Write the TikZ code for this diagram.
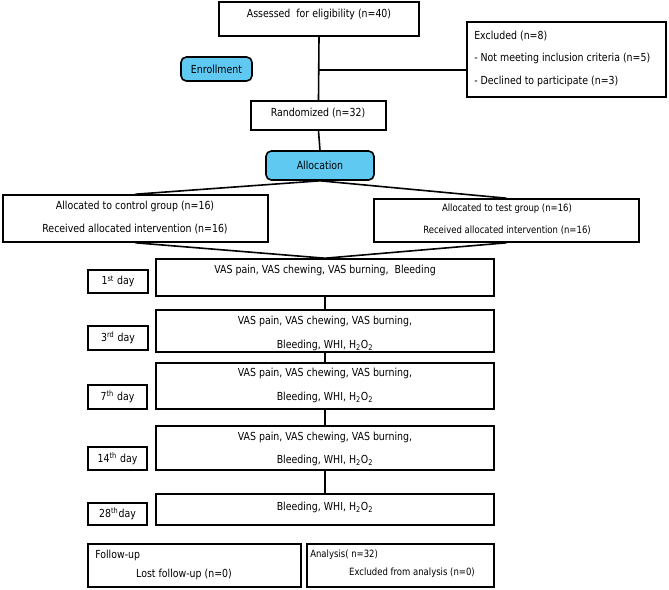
\documentclass[tikz,border=0pt]{standalone}
\usepackage{fontspec}
\setmainfont{DejaVu Sans}[FakeStretch=0.85]
\usetikzlibrary{fit}
\definecolor{boxblue}{RGB}{95,201,242}
\tikzset{
  box/.style={draw, line width=1.2pt, inner sep=0pt},
  rbox/.style={draw, line width=1.2pt, inner sep=0pt, rounded corners=4pt, fill=boxblue},
  txt/.style={inner sep=0pt, font=\fontsize{8.3pt}{9pt}\selectfont},
  stxt/.style={inner sep=0pt, font=\fontsize{7.5pt}{8.5pt}\selectfont},
  conn/.style={line width=1.2pt},
}
\begin{document}
\begin{tikzpicture}[x=0.75pt,y=-0.75pt]
\useasboundingbox (0,0) rectangle (669,590);
% boxes
\node[box, fit={(219,2)(419,36)}] (assess) {};
\node[box, fit={(467,22)(666,97)}] (excl) {};
\node[rbox, fit={(181,57)(252,81)}] (enrol) {};
\node[box, fit={(251,101)(386,130)}] (rand) {};
\node[rbox, fit={(266,151)(374,180)}] (alloc) {};
\node[box, fit={(3,195)(268,242)}] (ctrl) {};
\node[box, fit={(374,199)(639,242)}] (test) {};
\node[box, fit={(156,259)(494,296)}] (d1) {};
\node[box, fit={(156,310)(494,352)}] (d3) {};
\node[box, fit={(156,363)(494,409)}] (d7) {};
\node[box, fit={(156,426)(494,470)}] (d14) {};
\node[box, fit={(156,494)(494,525)}] (d28) {};
\node[box, fit={(88,270)(148,293)}] (l1) {};
\node[box, fit={(88,326)(148,350)}] (l3) {};
\node[box, fit={(88,385)(147,409)}] (l7) {};
\node[box, fit={(88,447)(147,470)}] (l14) {};
\node[box, fit={(88,503)(147,525)}] (l28) {};
\node[box, fit={(88,544)(301,587)}] (fu) {};
\node[box, fit={(307,544)(494,587)}] (an) {};
% texts
\node[txt] (assess-t) at (319,14) {Assessed\ \ for eligibility (n=40)};
\node[txt, anchor=west] (excl-t1) at (474,36) {Excluded (n=8)};
\node[txt, anchor=west] (excl-t2) at (474,58) {- Not meeting inclusion criteria (n=5)};
\node[txt, anchor=west] (excl-t3) at (474,81) {- Declined to participate (n=3)};
\node[txt] (enrol-t) at (enrol.center) {Enrollment};
\node[txt] (rand-t) at (318,113) {Randomized (n=32)};
\node[txt] (alloc-t) at (alloc.center) {Allocation};
\node[txt] (ctrl-t1) at (135,206) {Allocated to control group (n=16)};
\node[txt] (ctrl-t2) at (135,229) {Received allocated intervention (n=16)};
\node[stxt] (test-t1) at (507,209) {Allocated to test group (n=16)};
\node[stxt] (test-t2) at (507,230) {Received allocated intervention (n=16)};
\node[txt] (d1-t) at (325,270) {VAS pain, VAS chewing, VAS burning,\ \ Bleeding};
\node[txt] (d3-t1) at (325,321) {VAS pain, VAS chewing, VAS burning,};
\node[txt] (d3-t2) at (325,345) {Bleeding, WHI, H\textsubscript{2}O\textsubscript{2}};
\node[txt] (d7-t1) at (325,373) {VAS pain, VAS chewing, VAS burning,};
\node[txt] (d7-t2) at (325,397) {Bleeding, WHI, H\textsubscript{2}O\textsubscript{2}};
\node[txt] (d14-t1) at (325,437) {VAS pain, VAS chewing, VAS burning,};
\node[txt] (d14-t2) at (325,460) {Bleeding, WHI, H\textsubscript{2}O\textsubscript{2}};
\node[txt] (d28-t) at (325,507) {Bleeding, WHI, H\textsubscript{2}O\textsubscript{2}};
\node[txt] (l1-t) at (l1.center) {1\textsuperscript{st} day};
\node[txt] (l3-t) at (l3.center) {3\textsuperscript{rd} day};
\node[txt] (l7-t) at (l7.center) {7\textsuperscript{th} day};
\node[txt] (l14-t) at (l14.center) {14\textsuperscript{th} day};
\node[txt] (l28-t) at (l28.center) {28\textsuperscript{th}day};
\node[txt, anchor=west] (fu-t1) at (95,555) {Follow-up};
\node[txt] (fu-t2) at (184,574) {Lost follow-up (n=0)};
\node[stxt, anchor=west] (an-t1) at (310,555) {Analysis( n=32)};
\node[stxt] (an-t2) at (412,573) {Excluded from analysis (n=0)};
% connectors
\coordinate (j) at (319,70);
\draw[conn] (assess.south) -- (rand.north);
\draw[conn] (j) -- (j -| excl.west);
\draw[conn] (rand.south) -- (alloc.north);
\draw[conn] (alloc.south) -- (ctrl.north);
\draw[conn] (alloc.south) -- (test.north);
\draw[conn] (ctrl.south) -- (d1.north);
\draw[conn] (test.south) -- (d1.north);
\draw[conn] (d1.south) -- (d3.north);
\draw[conn] (d3.south) -- (d7.north);
\draw[conn] (d7.south) -- (d14.north);
\draw[conn] (d14.south) -- (d28.north);
\end{tikzpicture}
\end{document}
